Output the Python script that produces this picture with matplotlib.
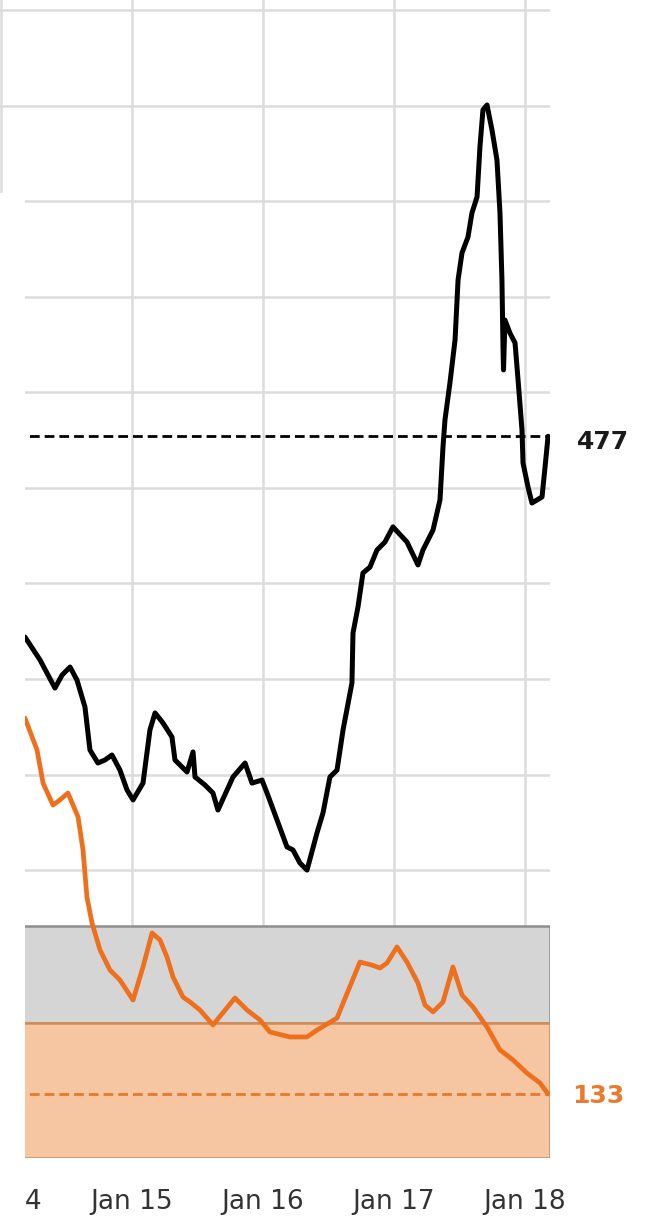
import matplotlib
matplotlib.use("Agg")
import matplotlib.pyplot as plt
from matplotlib.patches import Rectangle

# ---- data (decimal years, values) ----
black_x = [2014.183, 2014.298, 2014.412, 2014.466, 2014.527, 2014.580, 2014.641, 2014.679,
           2014.740, 2014.794, 2014.847, 2014.908, 2014.962, 2015.008, 2015.084, 2015.137,
           2015.176, 2015.237, 2015.305, 2015.328, 2015.420, 2015.466, 2015.481, 2015.557,
           2015.618, 2015.656, 2015.771, 2015.863, 2015.916, 2015.992, 2016.031, 2016.107,
           2016.183, 2016.229, 2016.282, 2016.336, 2016.412, 2016.458, 2016.511, 2016.565,
           2016.611, 2016.679, 2016.687, 2016.725, 2016.763, 2016.817, 2016.870, 2016.931,
           2016.992, 2017.099, 2017.183, 2017.221, 2017.298, 2017.351, 2017.374, 2017.389,
           2017.427, 2017.466, 2017.489, 2017.519, 2017.565, 2017.595, 2017.634, 2017.656,
           2017.679, 2017.710, 2017.748, 2017.786, 2017.809, 2017.824, 2017.832, 2017.836,
           2017.847, 2017.885, 2017.924, 2017.947, 2017.977, 2017.985, 2018.023, 2018.053,
           2018.092, 2018.130, 2018.153, 2018.176]
black_y = [372.0, 360.0, 345.3, 352.1, 356.3, 349.5, 335.4, 312.9,
           306.1, 307.7, 310.3, 302.4, 292.0, 286.8, 295.6, 323.4,
           332.3, 327.0, 319.7, 307.7, 301.4, 311.9, 298.8, 294.6,
           290.4, 281.5, 298.8, 306.1, 295.6, 297.2, 290.4, 276.3,
           262.2, 260.6, 253.8, 250.1, 269.5, 280.0, 298.8, 302.4,
           323.4, 348.0, 374.1, 387.7, 405.5, 408.6, 417.5, 421.7,
           429.6, 421.7, 409.7, 417.5, 428.0, 443.7, 471.4, 485.5,
           504.9, 527.4, 558.8, 572.9, 581.3, 593.8, 602.2, 628.3,
           647.7, 650.3, 637.2, 621.5, 593.8, 558.8, 523.7, 511.7,
           537.8, 531.0, 525.8, 506.5, 480.3, 463.0, 450.5, 442.1,
           443.7, 445.3, 460.9, 477.0]

orange_x = [2014.183, 2014.275, 2014.321, 2014.397, 2014.450, 2014.511, 2014.588, 2014.626,
            2014.656, 2014.695, 2014.756, 2014.832, 2014.908, 2015.008, 2015.084, 2015.153,
            2015.214, 2015.267, 2015.313, 2015.389, 2015.443, 2015.519, 2015.618, 2015.786,
            2015.878, 2015.977, 2016.053, 2016.206, 2016.336, 2016.412, 2016.565, 2016.740,
            2016.832, 2016.893, 2016.947, 2017.023, 2017.099, 2017.183, 2017.237, 2017.298,
            2017.374, 2017.450, 2017.519, 2017.603, 2017.710, 2017.809, 2017.908, 2018.015,
            2018.115, 2018.176]
orange_y = [329.6, 312.9, 295.6, 284.1, 286.8, 290.4, 277.9, 260.6,
            236.0, 222.4, 208.3, 197.8, 192.6, 182.1, 199.4, 217.2,
            213.5, 204.6, 194.2, 183.7, 181.1, 176.9, 169.1, 183.2,
            176.9, 171.7, 165.4, 162.8, 162.8, 166.4, 172.7, 202.0,
            200.4, 198.9, 201.5, 209.9, 202.0, 191.0, 179.5, 175.9,
            181.1, 199.4, 184.8, 178.5, 168.0, 156.0, 150.8, 143.9,
            138.7, 133.0]

black_ref = 477
orange_ref = 133
gray_band = (170, 221)
orange_band = (99.5, 170)

tick_pos = [2014, 2015, 2016, 2017, 2018]
tick_labels = ["Jan 14", "Jan 15", "Jan 16", "Jan 17", "Jan 18"]

# ---- figure ----
W, H = 654, 1217
fig = plt.figure(figsize=(W / 100, H / 100), dpi=100)
ax = fig.add_axes([0, 1 - 1158 / H, 550 / W, 1158 / H])

x_left = 2015 - 132 / 131
x_right = 2015 + (550 - 132) / 131
ax.set_xlim(x_left, x_right)
ax.set_ylim(99.5, 705.2)

for s in ax.spines.values():
    s.set_visible(False)

ax.set_yticks(range(100, 701, 50))
ax.set_xticks(tick_pos)
ax.set_xticklabels(tick_labels, fontsize=19, color="#333333", family="DejaVu Sans")
ax.tick_params(axis="x", length=0, pad=22)
ax.tick_params(axis="y", length=0, labelleft=False)
ax.grid(True, color="#dcdcdc", lw=1.8, zorder=0)
ax.set_axisbelow(True)

# bands
ax.axhspan(gray_band[0], gray_band[1], facecolor="#d5d5d5", edgecolor="#8e8e8e", lw=1.8, zorder=1)
ax.axhspan(orange_band[0], orange_band[1], facecolor="#f6c6a2", edgecolor="#d48a52", lw=1.8, zorder=1.1)

# reference lines
ax.hlines(black_ref, x_left, black_x[-1], colors="black", lw=2.0, linestyles=(0, (3.5, 1.8)), zorder=3)
ax.hlines(orange_ref, x_left, orange_x[-1], colors="#e8782a", lw=2.0, linestyles=(0, (3.5, 1.8)), zorder=3)

# series
ax.plot(orange_x, orange_y, color="#ee6f1c", lw=3.4, solid_joinstyle="round",
        solid_capstyle="round", zorder=4)
ax.plot(black_x, black_y, color="black", lw=3.6, solid_joinstyle="round",
        solid_capstyle="round", zorder=5)

# end labels
lx = 577 / 550
ax.annotate(str(black_ref), xy=(lx, black_ref), xycoords=("axes fraction", "data"),
            xytext=(0, -6), textcoords="offset pixels", ha="left", va="center",
            fontsize=18, fontweight="bold", color="#1a1a1a", annotation_clip=False)
ax.annotate(str(orange_ref), xy=(lx - 5 / 550, orange_ref), xycoords=("axes fraction", "data"),
            xytext=(0, -2), textcoords="offset pixels", ha="left", va="center",
            fontsize=18, fontweight="bold", color="#ec7a2c", annotation_clip=False)

# white cover on the left edge (cropped region of the original)
fig.patches.append(Rectangle((0, 1 - 1166 / H), 25 / W, (1166 - 193) / H,
                             transform=fig.transFigure, facecolor="white",
                             edgecolor="none", zorder=10))
fig.patches.append(Rectangle((0, 0), 23 / W, 1 - 1166 / H,
                             transform=fig.transFigure, facecolor="white",
                             edgecolor="none", zorder=10))

fig.savefig("out.png", dpi=100)
